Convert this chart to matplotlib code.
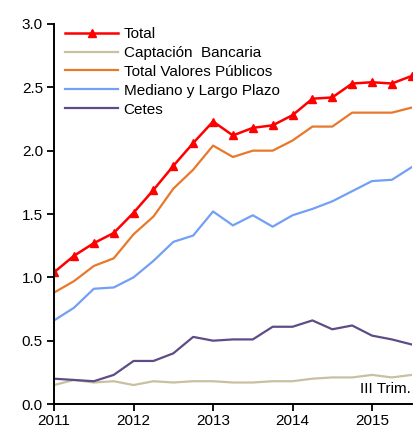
import numpy as np
import matplotlib
matplotlib.use("Agg")
import matplotlib.pyplot as plt

plt.rcParams["font.family"] = ["Liberation Sans", "DejaVu Sans"]

# quarterly data, 2011 Q1 .. 2015 Q3
start_year = 2011
total = [1.04, 1.17, 1.27, 1.35, 1.51, 1.69, 1.88, 2.06, 2.23, 2.12, 2.18, 2.20,
         2.28, 2.41, 2.42, 2.53, 2.54, 2.53, 2.59]
captacion = [0.15, 0.19, 0.17, 0.18, 0.15, 0.18, 0.17, 0.18, 0.18, 0.17, 0.17, 0.18,
             0.18, 0.20, 0.21, 0.21, 0.23, 0.21, 0.23]
valores = [0.88, 0.97, 1.09, 1.15, 1.34, 1.48, 1.70, 1.85, 2.04, 1.95, 2.00, 2.00,
           2.08, 2.19, 2.19, 2.30, 2.30, 2.30, 2.34]
mediano = [0.66, 0.76, 0.91, 0.92, 1.00, 1.13, 1.28, 1.33, 1.52, 1.41, 1.49, 1.40,
           1.49, 1.54, 1.60, 1.68, 1.76, 1.77, 1.87]
cetes = [0.20, 0.19, 0.18, 0.23, 0.34, 0.34, 0.40, 0.53, 0.50, 0.51, 0.51, 0.61,
         0.61, 0.66, 0.59, 0.62, 0.54, 0.51, 0.47]
years = [2011, 2012, 2013, 2014, 2015]

x = start_year + np.arange(len(total)) / 4.0

fig = plt.figure(figsize=(4.13, 4.28), dpi=100)
ax = fig.add_axes([0.131, 0.056, 0.866, 0.888])

ax.plot(x, total, color="#FF0000", lw=1.8, marker="^", ms=6, label="Total")
ax.plot(x, captacion, color="#C9C0A0", lw=1.6, label="Captación  Bancaria")
ax.plot(x, valores, color="#E8782A", lw=1.6, label="Total Valores Públicos")
ax.plot(x, mediano, color="#739FF5", lw=1.6, label="Mediano y Largo Plazo")
ax.plot(x, cetes, color="#5E4C86", lw=1.6, label="Cetes")

ax.set_xlim(x[0], x[-1])
ax.set_ylim(0, 3.0)
ax.set_xticks(years)
ax.set_yticks(np.arange(0, 3.01, 0.5))
ax.yaxis.set_major_formatter(matplotlib.ticker.FormatStrFormatter("%.1f"))
ax.tick_params(labelsize=11, length=5, width=1.3, direction="out", pad=3)
ax.tick_params(axis="x", pad=2)
for s in ["top", "right"]:
    ax.spines[s].set_visible(False)
for s in ["left", "bottom"]:
    ax.spines[s].set_linewidth(1.4)

ax.legend(loc="upper left", bbox_to_anchor=(0.0, 1.02), frameon=False, fontsize=11,
          handlelength=3.5, handletextpad=0.35, labelspacing=0.32, borderaxespad=0.3)
ax.text(0.998, 0.02, "III Trim.", transform=ax.transAxes, ha="right", va="bottom",
        fontsize=11)

fig.savefig("out.png", dpi=100)
